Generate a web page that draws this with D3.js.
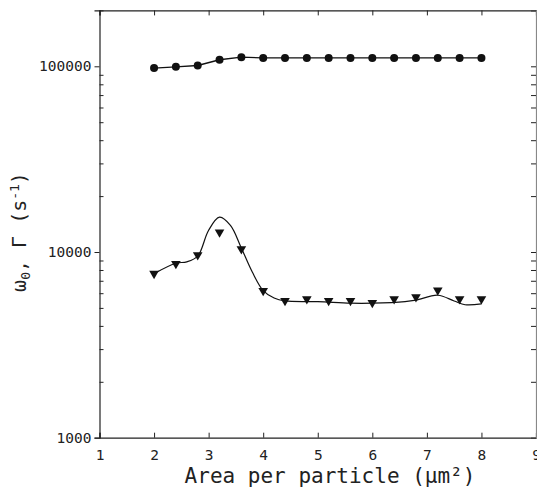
<!DOCTYPE html>
<html>
	<head>
		<title></title>
		<script src='https://cdn.jsdelivr.net/npm/d3@7/dist/d3.min.js'></script>
		<style>
			body { margin: 0; background: #fff; }
			text { font-family: 'DejaVu Sans Mono', monospace; fill: #222; }
		</style>
	</head>
	<body>
		<script>
			// area per particle (um^2)
			var area = [2.0, 2.4, 2.8, 3.2, 3.6, 4.0, 4.4, 4.8, 5.2, 5.6, 6.0, 6.4, 6.8, 7.2, 7.6, 8.0];
			// omega_0 (circles)
			var omega = [97800, 99300, 101000, 108500, 112000, 111000, 111000, 111000, 111000, 111000, 111000, 111000, 111000, 111000, 111000, 111000];
			// Gamma (triangles)
			var gamma = [7650, 8650, 9630, 12770, 10380, 6190, 5470, 5580, 5470, 5470, 5330, 5580, 5730, 6220, 5580, 5580];
			// smooth fit through Gamma
			var fitX = [2.0, 2.4, 2.6, 2.8, 3.0, 3.2, 3.4, 3.6, 3.8, 4.0, 4.2, 4.4, 5.0, 5.6, 6.0, 6.6, 6.8, 7.2, 7.5, 7.7, 8.0];
			var fitY = [7650, 8700, 8850, 9500, 13100, 15400, 13900, 10500, 7800, 6200, 5650, 5450, 5400, 5300, 5300, 5400, 5500, 5850, 5450, 5200, 5250];
			var xTicks = [1, 2, 3, 4, 5, 6, 7, 8, 9];
			var yTicks = [1000, 10000, 100000];

			var w = 537,
				h = 491;

			var svg = d3.select('body')
						.append('svg')
						.attr('width', w)
						.attr('height', h);

			var x = d3.scaleLinear().domain([1, 9]).range([99.5, 536]);
			var y = d3.scaleLog().domain([1000, 200000]).range([437.7, 10.4]);

			var minor = [];
			[1000, 10000, 100000].forEach(function(d) {
				for (var k = 2; k <= 9; k++)
					if (d * k <= 200000) minor.push(d * k);
			});

			function style(g) {
				g.select('.domain').attr('stroke', '#222').attr('stroke-width', 1.2);
				g.selectAll('.tick line').attr('stroke', '#222');
				g.selectAll('.tick text').attr('font-size', 14.5).attr('fill', '#333')
					.style('font-family', "'DejaVu Sans Mono', monospace");
			}

			// bottom
			svg.append('g')
				.attr('transform', 'translate(0,' + y(1000) + ')')
				.call(d3.axisBottom(x).tickValues(xTicks).tickFormat(d3.format('d'))
					.tickSize(-5).tickPadding(12))
				.call(style);

			// top
			svg.append('g')
				.attr('transform', 'translate(0,' + y(200000) + ')')
				.call(d3.axisTop(x).tickValues(xTicks).tickFormat('').tickSize(-5))
				.call(style);

			// left
			svg.append('g')
				.attr('transform', 'translate(' + x(1) + ',0)')
				.call(d3.axisLeft(y).tickValues(yTicks).tickFormat(d3.format('d'))
					.tickSize(5).tickPadding(3))
				.call(style);
			svg.append('g')
				.attr('transform', 'translate(' + x(1) + ',0)')
				.call(d3.axisLeft(y).tickValues(minor).tickFormat('').tickSize(-4))
				.call(style)
				.select('.domain').remove();

			// right
			svg.append('g')
				.attr('transform', 'translate(' + x(9) + ',0)')
				.call(d3.axisRight(y).tickValues(yTicks.concat(minor)).tickFormat('').tickSize(-5))
				.call(style)
				.select('.domain').attr('stroke', '#888');

			// omega_0 line + circles
			var pts = area.map(function(d, i) { return [d, omega[i]]; });
			svg.append('path')
				.datum(pts)
				.attr('fill', 'none')
				.attr('stroke', '#111')
				.attr('stroke-width', 1.4)
				.attr('d', d3.line()
					.x(function(d) { return x(d[0]); })
					.y(function(d) { return y(d[1]); }));

			svg.selectAll('circle')
				.data(pts)
				.enter()
				.append('circle')
				.attr('cx', function(d) { return x(d[0]); })
				.attr('cy', function(d) { return y(d[1]); })
				.attr('r', 4)
				.attr('fill', '#111');

			// Gamma fit curve
			var fit = fitX.map(function(d, i) { return [d, fitY[i]]; });
			svg.append('path')
				.datum(fit)
				.attr('fill', 'none')
				.attr('stroke', '#111')
				.attr('stroke-width', 1.2)
				.attr('d', d3.line()
					.curve(d3.curveCatmullRom)
					.x(function(d) { return x(d[0]); })
					.y(function(d) { return y(d[1]); }));

			// Gamma triangles
			var tri = d3.symbol().type(d3.symbolTriangle).size(40);
			svg.selectAll('.tri')
				.data(area)
				.enter()
				.append('path')
				.attr('class', 'tri')
				.attr('d', tri)
				.attr('fill', '#111')
				.attr('transform', function(d, i) {
					return 'translate(' + x(d) + ',' + y(gamma[i]) + ') rotate(180)';
				});

			// axis titles
			svg.append('text')
				.attr('x', 330)
				.attr('y', 483)
				.attr('text-anchor', 'middle')
				.attr('font-size', 21)
				.text('Area per particle  (\u03bcm\u00b2)');

			svg.append('text')
				.attr('transform', 'translate(26,232) rotate(-90)')
				.attr('text-anchor', 'middle')
				.attr('font-size', 20)
				.html('\u03c9<tspan font-size="13" dy="4">0</tspan><tspan dy="-4">,  \u0393  (s</tspan><tspan font-size="13" dy="-7">-1</tspan><tspan dy="7">)</tspan>');
		</script>
	</body>
</html>
